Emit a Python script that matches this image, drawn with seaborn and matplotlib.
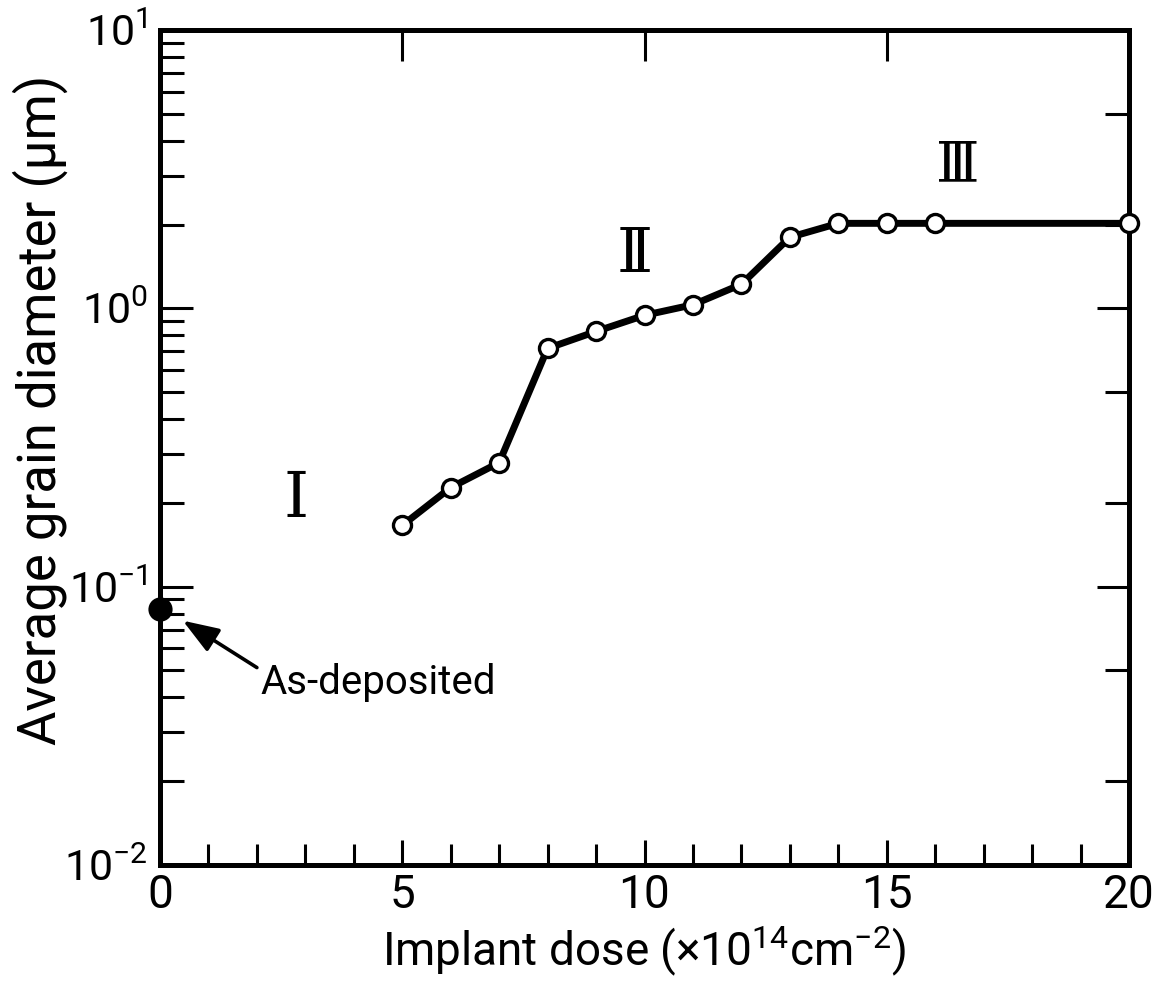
import matplotlib
matplotlib.use("Agg")
import matplotlib.pyplot as plt
import matplotlib.ticker as mticker
import seaborn as sns
import pandas as pd
import numpy as np

# ---- data ----
dose = [5, 6, 7, 8, 9, 10, 11, 12, 13, 14, 15, 16, 20]
grain = [0.166, 0.227, 0.279, 0.718, 0.826, 0.944, 1.03, 1.22, 1.80, 2.02, 2.02, 2.02, 2.02]
asdep_dose = [0.0]
asdep_grain = [0.083]
x_ticks = [0, 5, 10, 15, 20]
x_ticklabels = ["0", "5", "10", "15", "20"]
y_ticks = [0.01, 0.1, 1, 10]
y_ticklabels = [r"$\mathregular{10^{-2}}$", r"$\mathregular{10^{-1}}$",
                r"$\mathregular{10^{0}}$", r"$\mathregular{10^{1}}$"]
regions = ["Ⅰ", "Ⅱ", "Ⅲ"]
region_x = [2.81, 9.79, 16.47]
region_y = [0.205, 1.55, 3.24]

sns.set_style("ticks")
FONTS = ["Roboto", "DejaVu Sans"]
plt.rcParams["font.family"] = FONTS
plt.rcParams["mathtext.fontset"] = "custom"
plt.rcParams["mathtext.rm"] = FONTS[0]
plt.rcParams["mathtext.it"] = FONTS[0] + ":italic"
plt.rcParams["mathtext.bf"] = FONTS[0] + ":bold"
for k in ["text.color", "axes.labelcolor", "xtick.color", "ytick.color",
          "axes.edgecolor", "xtick.labelcolor", "ytick.labelcolor"]:
    plt.rcParams[k] = "black"

fig = plt.figure(figsize=(11.72, 9.89), dpi=100, facecolor="white")
ax = fig.add_axes([160 / 1172, 1 - 865 / 989, (1129 - 160) / 1172, (865 - 30) / 989])

df = pd.DataFrame({"dose": dose, "grain": grain})
sns.lineplot(data=df, x="dose", y="grain", ax=ax, color="black", lw=5.0,
             marker="o", markersize=13, markerfacecolor="white",
             markeredgecolor="black", markeredgewidth=2.4, clip_on=False,
             zorder=5)
dfa = pd.DataFrame({"dose": asdep_dose, "grain": asdep_grain})
sns.scatterplot(data=dfa, x="dose", y="grain", ax=ax, color="black", s=260,
                edgecolor="black", clip_on=False, zorder=6)

ax.set_yscale("log")
ax.set_xlim(0, 20)
ax.set_ylim(0.01, 10)

spine_w = 3.6
for s in ax.spines.values():
    s.set_linewidth(spine_w)
    s.set_visible(True)
    s.set_zorder(2)
    s.set_color("black")

# bottom / left ticks
ax.set_xticks(x_ticks)
ax.set_xticklabels(x_ticklabels)
ax.xaxis.set_minor_locator(mticker.MultipleLocator(1))
ax.set_yticks(y_ticks)
ax.set_yticklabels(y_ticklabels)
ax.yaxis.set_minor_locator(mticker.LogLocator(base=10, subs=np.arange(2, 10)))
ax.yaxis.set_minor_formatter(mticker.NullFormatter())
ax.tick_params(axis="x", which="major", direction="in", length=18, width=2.2,
               labelsize=33, pad=6, top=False, color="black")
ax.tick_params(axis="x", which="minor", direction="in", length=15, width=2.2,
               top=False)
ax.tick_params(axis="y", which="major", direction="in", length=24, width=2.2,
               labelsize=31, pad=9, right=False)
ax.tick_params(axis="y", which="minor", direction="in", length=17, width=2.2,
               right=False)

# right ticks (decades + 2, 5)
axr = ax.twinx()
axr.set_yscale("log")
axr.set_ylim(0.01, 10)
axr.yaxis.set_major_locator(mticker.FixedLocator([0.01, 0.1, 1, 10]))
axr.yaxis.set_minor_locator(mticker.LogLocator(base=10, subs=[2, 5]))
axr.yaxis.set_major_formatter(mticker.NullFormatter())
axr.yaxis.set_minor_formatter(mticker.NullFormatter())
axr.tick_params(axis="y", which="major", direction="in", length=23, width=2.2)
axr.tick_params(axis="y", which="minor", direction="in", length=17, width=2.2)

# top ticks at 5, 10, 15
axt = ax.twiny()
axt.set_xlim(0, 20)
axt.set_xticks([5, 10, 15])
axt.set_xticklabels([])
axt.xaxis.set_minor_locator(mticker.NullLocator())
axt.tick_params(axis="x", which="major", direction="in", length=22, width=2.2)

for a in (axr, axt):
    for s in a.spines.values():
        s.set_visible(False)
    a.set_zorder(0)
ax.set_zorder(1)
ax.patch.set_visible(False)

ax.set_xlabel(r"Implant dose (×10$\mathregular{^{14}}$cm$\mathregular{^{-2}}$)",
              fontsize=33, labelpad=4)
ax.set_ylabel("Average grain diameter (μm)", fontsize=38)
ax.yaxis.set_label_coords(-0.095, 0.545)

# region labels
for t, xx, yy, fs in zip(regions, region_x, region_y, [46, 44, 40]):
    ax.text(xx, yy, t, ha="center", va="center", fontsize=fs,
            family=["DejaVu Serif", "DejaVu Sans"], zorder=7)

# as-deposited annotation
ax.annotate("", xy=(0.47, 0.0755), xytext=(2.0, 0.0512),
            arrowprops=dict(arrowstyle="-|>,head_length=1.1,head_width=0.4",
                            color="black", lw=2.6, mutation_scale=20,
                            shrinkA=0, shrinkB=0), zorder=7, annotation_clip=False)
ax.text(2.07, 0.0452, "As-deposited", ha="left", va="center", fontsize=29, zorder=7)

fig.savefig("out.png", dpi=100, facecolor="white")
